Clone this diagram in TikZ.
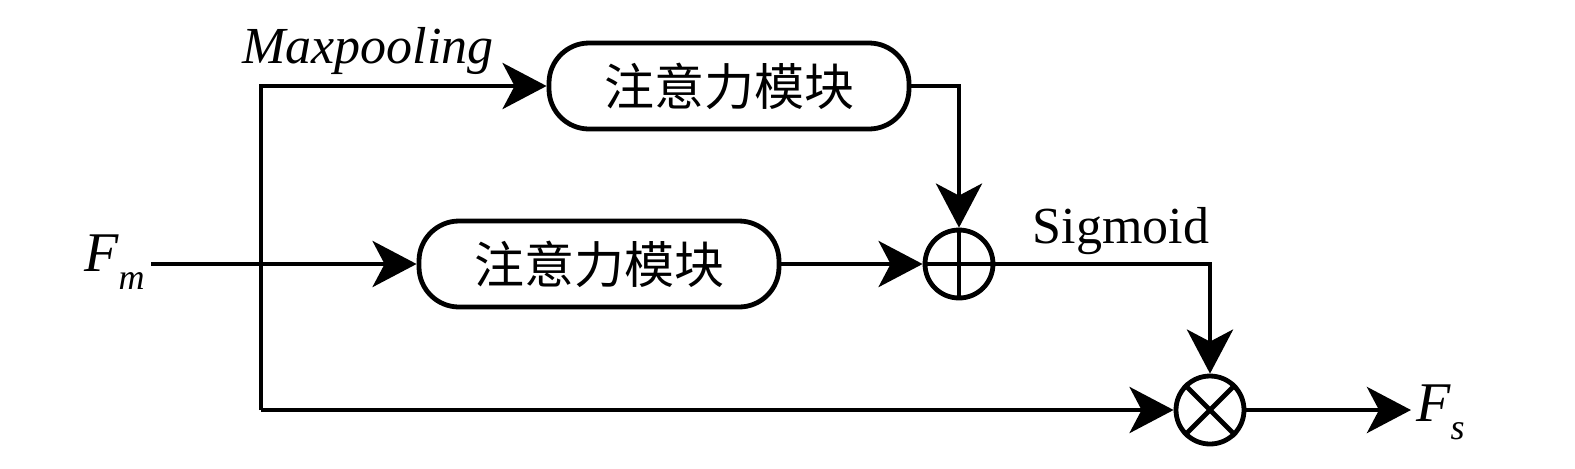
\documentclass[tikz,border=0pt]{standalone}
\usepackage{fontspec}
\setmainfont{Liberation Serif}
\newfontfamily\cjk{Noto Sans CJK SC}
\usetikzlibrary{arrows.meta}
\begin{document}
\begin{tikzpicture}[x=0.5pt,y=-0.5pt,
  line width=2.4pt, line join=miter,
  arr/.style={-{Stealth[length=22pt,width=23pt,inset=6pt]}},
  modbox/.style={draw, rectangle, rounded corners=20pt, minimum width=180pt, minimum height=43pt, inner sep=0pt, font=\cjk\fontsize{25}{25}\selectfont},
  opnode/.style={draw, circle, minimum size=34pt, inner sep=0pt},
  lbl/.style={inner sep=0pt, font=\fontsize{26}{26}\selectfont}]
\useasboundingbox (0,0) rectangle (1575,468);
\node[modbox] (box1) at (729,86) {注意力模块};
\node[modbox] (box2) at (599,264) {注意力模块};
\node[opnode] (plus) at (959,264) {};
\draw (plus.north) -- (plus.south) (plus.west) -- (plus.east);
\node[opnode] (times) at (1210,410) {};
\draw (times.north west) -- (times.south east) (times.north east) -- (times.south west);
\node[lbl, anchor=east, font=\fontsize{28}{28}\selectfont] (fm) at (147,262) {\itshape F\raisebox{-0.32em}{\fontsize{18}{18}\selectfont m}};
\node[lbl, anchor=west, font=\fontsize{28}{28}\selectfont] (fs) at (1414,412) {\itshape F\raisebox{-0.32em}{\fontsize{18}{18}\selectfont s}};
\node[lbl, anchor=base] (maxp) at (368,63) {\itshape Maxpooling};
\node[lbl, anchor=base] (sig) at (1121,243) {Sigmoid};
\coordinate (fmstart) at (151,264);
\coordinate (tl) at (261,86);
\coordinate (bl) at (261,410);
\coordinate (c1) at (plus.north |- box1.east);
\coordinate (c2) at (times.north |- plus.east);
\coordinate (out) at (1411,410);
\draw[arr] (fmstart) -- (box2.west);
\draw[arr] (bl) -- (tl) -- (box1.west);
\draw[arr] (bl) -- (times.west);
\draw[arr] (box1.east) -- (c1) -- (plus.north);
\draw[arr] (box2.east) -- (plus.west);
\draw[arr] (plus.east) -- (c2) -- (times.north);
\draw[arr] (times.east) -- (out);
\end{tikzpicture}
\end{document}
